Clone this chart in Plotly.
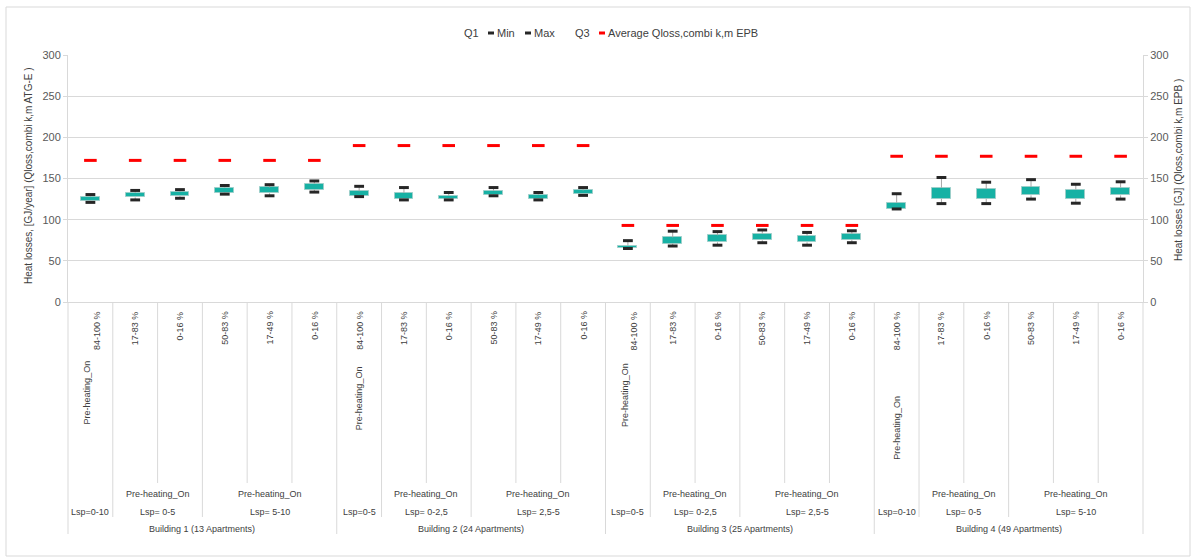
import plotly.graph_objects as go

# ---- data -------------------------------------------------------------
buildings = [
    "Building 1 (13 Apartments)",
    "Building 2 (24 Apartments)",
    "Building 3 (25 Apartments)",
    "Building 4 (49 Apartments)",
]
lsp_labels = [
    ["Lsp=0-10", "Lsp= 0-5", "Lsp= 5-10"],
    ["Lsp=0-5", "Lsp= 0-2,5", "Lsp= 2,5-5"],
    ["Lsp=0-5", "Lsp= 0-2,5", "Lsp= 2,5-5"],
    ["Lsp=0-10", "Lsp= 0-5", "Lsp= 5-10"],
]
share_labels = [
    ["84-100 %"],
    ["17-83 %", "0-16 %"],
    ["50-83 %", "17-49 %", "0-16 %"],
]
preheat_label = "Pre-heating_On"

q_min = [121, 124, 126, 131, 129, 133.5,
         128, 124, 124, 129, 124, 129.5,
         65, 68, 69, 72, 69, 72,
         113, 119.5, 119.5, 125, 120, 125]
q1 = [123, 127, 128.5, 133, 132, 136.5,
      128.5, 125.5, 125, 130.5, 125.5, 131,
      65.5, 71, 72.5, 75, 72.5, 75.5,
      113, 125.5, 125.5, 129.5, 125.5, 129.5]
q3 = [128, 132.5, 133.8, 138.8, 139.2, 143.8,
      134.5, 132.5, 129, 135.2, 130, 135.5,
      68.5, 78.5, 81, 83, 80.5, 82.5,
      120.5, 138.6, 137, 139.7, 136.5, 139]
q_max = [130.5, 135.5, 136.5, 141.5, 142.5, 147,
         140.5, 139, 133, 139, 133, 139,
         74.5, 86, 85.5, 87.5, 84.5, 86.5,
         131.5, 151.2, 145.5, 148.6, 143, 146]
avg_epb = [172, 172, 172, 172, 172, 172,
           190, 190, 190, 190, 190, 190,
           93, 93, 93, 93, 93, 93,
           177, 177, 177, 177, 177, 177]

# ---- geometry helpers -------------------------------------------------
W, H = 1196, 558
PL, PR, PT, PB = 68, 1143, 55, 302          # plot area in pixels
FONT = "Liberation Sans, Arial, sans-serif"
TXT = "#595959"
GRID = "#d9d9d9"


def fx(xp):
    return (xp - PL) / (PR - PL)


def fy(yp):
    return (PB - yp) / (PB - PT)


n_cat = sum(len(g) for g in share_labels) * len(buildings)
idx = list(range(n_cat))
box_h = [b - a for a, b in zip(q1, q3)]

fig = go.Figure()

# boxes (Q1..Q3)
fig.add_trace(go.Bar(
    x=idx, y=box_h, base=q1, width=0.42,
    marker=dict(color="#17b1a4", line=dict(color="#9ccfca", width=1)),
    showlegend=False, hoverinfo="skip",
))

# whiskers
wx, wy = [], []
for i in idx:
    wx += [i, i, None, i, i, None]
    wy += [q3[i], q_max[i], None, q_min[i], q1[i], None]
fig.add_trace(go.Scatter(
    x=wx, y=wy, mode="lines", line=dict(color="#a6a6a6", width=1),
    showlegend=False, hoverinfo="skip",
))

# min / max marks
for vals in (q_min, q_max):
    fig.add_trace(go.Scatter(
        x=idx, y=vals, mode="markers",
        marker=dict(symbol="line-ew", size=7,
                    line=dict(color="#262626", width=3)),
        showlegend=False,
    ))

# EPB average on the secondary axis
fig.add_trace(go.Scatter(
    x=idx, y=avg_epb, mode="markers", yaxis="y2",
    marker=dict(symbol="line-ew", size=9,
                line=dict(color="#ff0000", width=3)),
    showlegend=False,
))

axis_common = dict(
    range=[0, 300], dtick=50, showline=True, linecolor=GRID, linewidth=1,
    ticks="outside", ticklen=4, tickcolor=GRID,
    tickfont=dict(family=FONT, size=11, color=TXT), fixedrange=True,
)

fig.update_layout(
    width=W, height=H,
    margin=dict(l=PL, r=W - PR, t=PT, b=H - PB),
    paper_bgcolor="white", plot_bgcolor="white",
    font=dict(family=FONT, color=TXT),
    showlegend=False,
    bargap=0,
    xaxis=dict(range=[-0.5, n_cat - 0.5], showticklabels=False,
               showgrid=False, zeroline=False, showline=True,
               linecolor=GRID, ticks="", fixedrange=True),
    yaxis=dict(**axis_common, showgrid=True, gridcolor=GRID,
               zeroline=False),
    yaxis2=dict(**axis_common, overlaying="y", side="right",
                showgrid=False, zeroline=False),
)

shapes = []
ann = []

# axis titles
ann.append(dict(text="Heat losses, [GJ/year] (Qloss,combi k,m ATG-E )",
                x=fx(28), y=fy(176), xref="paper", yref="paper",
                xanchor="center", yanchor="middle",
                textangle=-90, showarrow=False,
                font=dict(size=10, color="#404040")))
ann.append(dict(text="Heat losses [GJ] (Qloss,combi k,m EPB )",
                x=fx(1178), y=fy(170), xref="paper", yref="paper",
                xanchor="center", yanchor="middle",
                textangle=-90, showarrow=False,
                font=dict(size=10, color="#404040")))

# multi-level category axis
rot_ph_y = [392, 398, 395, 428]
share_shift = [6, 0, 6, 0]
ph_shift = [-3, 0, -3, 0]
lab_font = dict(size=9, color="#404040")

pos = 0
bounds = {0: 534}
for b, bname in enumerate(buildings):
    b_start = pos
    for g, shares in enumerate(share_labels):
        g_start = pos
        for s, share in enumerate(shares):
            dx = share_shift[b] if len(shares) == 1 else 0
            ann.append(dict(text=share, x=pos, xref="x", xshift=dx,
                            xanchor="center",
                            y=fy(309), yref="paper", yanchor="top",
                            textangle=-90, showarrow=False, font=lab_font))
            pos += 1
            if s < len(shares) - 1:
                bounds[pos] = 483
        g_mid = (g_start + pos - 1) / 2
        if len(shares) == 1:
            ann.append(dict(text=preheat_label, x=g_mid, xref="x",
                            xshift=ph_shift[b], xanchor="center",
                            y=fy(rot_ph_y[b]), yref="paper",
                            yanchor="middle", textangle=-90,
                            showarrow=False, font=lab_font))
        else:
            ann.append(dict(text=preheat_label, x=g_mid, xref="x",
                            xanchor="center", y=fy(494), yref="paper",
                            yanchor="middle", showarrow=False,
                            font=lab_font))
        ann.append(dict(text=lsp_labels[b][g], x=g_mid, xref="x",
                        xanchor="center", y=fy(512), yref="paper",
                        yanchor="middle", showarrow=False, font=lab_font))
        if g < len(share_labels) - 1:
            bounds[pos] = 517
    ann.append(dict(text=bname, x=(b_start + pos - 1) / 2, xref="x",
                    xanchor="center", y=fy(529), yref="paper",
                    yanchor="middle", showarrow=False, font=lab_font))
    bounds[pos] = 534

for k, depth in bounds.items():
    xp = k / n_cat
    shapes.append(dict(type="line", xref="paper", yref="paper",
                       x0=xp, x1=xp, y0=0, y1=fy(depth),
                       line=dict(color=GRID, width=1)))

# legend row
legend_items = [
    ("Q1", None, 462),
    ("Min", "#262626", 488),
    ("Max", "#262626", 525),
    ("Q3", None, 573),
    ("Average Qloss,combi k,m EPB", "#ff0000", 599),
]
ly = fy(33)
for label, col, x0 in legend_items:
    tx = x0
    if col is not None:
        shapes.append(dict(type="line", xref="paper", yref="paper",
                           x0=fx(x0), x1=fx(x0 + 6), y0=ly, y1=ly,
                           line=dict(color=col, width=3)))
        tx = x0 + 7
    ann.append(dict(text=label, x=fx(tx), y=ly, xref="paper", yref="paper",
                    xanchor="left", yanchor="middle", showarrow=False,
                    font=dict(size=11, color="#404040")))

# outer chart border
shapes.append(dict(type="rect", xref="paper", yref="paper",
                   x0=fx(6), x1=fx(1190), y0=fy(556), y1=fy(7),
                   line=dict(color=GRID, width=1)))

fig.update_layout(shapes=shapes, annotations=ann)
fig.write_html("out.html")
